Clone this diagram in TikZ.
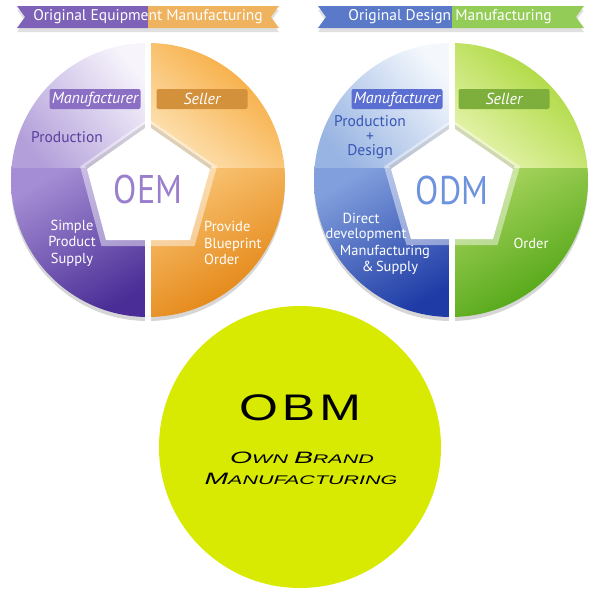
\documentclass[tikz,border=0pt]{standalone}
\usepackage{fontspec}
\setmainfont{PT Sans}
\newfontfamily\obmfont{Liberation Sans}
\definecolor{oemBanL}{HTML}{7D62B8}
\definecolor{oemBanR}{HTML}{EFB25E}
\definecolor{oemULa}{HTML}{F7F4FC}
\definecolor{oemULb}{HTML}{B3A0DA}
\definecolor{oemLLa}{HTML}{A48DD4}
\definecolor{oemLLb}{HTML}{4A2D96}
\definecolor{oemURa}{HTML}{FDE3B6}
\definecolor{oemURb}{HTML}{F6A430}
\definecolor{oemLRa}{HTML}{F9C474}
\definecolor{oemLRb}{HTML}{E2800C}
\definecolor{oemMan}{HTML}{8B6FC4}
\definecolor{oemSel}{HTML}{D4913C}
\definecolor{oemTxt}{HTML}{5B3F9D}
\definecolor{oemBig}{HTML}{9A80CC}
\definecolor{odmBanL}{HTML}{5A79C9}
\definecolor{odmBanR}{HTML}{94CC58}
\definecolor{odmULa}{HTML}{F4F8FD}
\definecolor{odmULb}{HTML}{98B4E2}
\definecolor{odmLLa}{HTML}{819FDC}
\definecolor{odmLLb}{HTML}{1E3BA6}
\definecolor{odmURa}{HTML}{E6F4AE}
\definecolor{odmURb}{HTML}{A4D42E}
\definecolor{odmLRa}{HTML}{A8D45E}
\definecolor{odmLRb}{HTML}{4AA210}
\definecolor{odmMan}{HTML}{5B6FD3}
\definecolor{odmSel}{HTML}{7EAE3C}
\definecolor{odmTxt}{HTML}{3756B6}
\definecolor{odmBig}{HTML}{6E93DE}
\definecolor{obmFill}{HTML}{D8EA02}
\newcommand\bigC[1]{{\fontsize{16.5}{18}\selectfont #1}}
\tikzset{
  bantext/.style={text=white,font=\fontsize{15.5}{18}\selectfont,inner sep=0pt},
  rolebox/.style={rounded corners=2pt,minimum width=91pt,minimum height=20pt,inner sep=0pt,text=white,font=\fontsize{16}{16}\selectfont\itshape},
  wtext/.style={text=white,font=\fontsize{14.5}{16.5}\selectfont,inner sep=0pt},
  ctext/.style={font=\fontsize{15.5}{14.5}\selectfont,inner sep=0pt},
  bigtext/.style={font=\fontsize{40}{40}\selectfont,inner sep=0pt},
  shadowc/.style={fill=black!16},
  gapstripe/.style={fill=white}
}
\begin{document}
\begin{tikzpicture}[x=1pt,y=-1pt]
\useasboundingbox (0,0) rectangle (600,600);
\fill[white] (0,0) rectangle (600,600);

% ================= OEM =================
% banner
\fill[black!12] (17,10) -- (279,10) -- (271,21) -- (279,32) -- (17,32) -- (25,21) -- cycle;
\fill[oemBanL] (17,6) -- (148,6) -- (148,28) -- (17,28) -- (25,17) -- cycle;
\fill[oemBanR] (148,6) -- (279,6) -- (271,17) -- (279,28) -- (148,28) -- cycle;
\node[bantext] (oemtitle) at (148,17) {Original Equipment Manufacturing};

% circle
\fill[shadowc] (148,184) circle (137);
\begin{scope}
  \clip (148,180) circle (137);
  \shade[top color=oemULa,bottom color=oemULb,shading angle=-50] (11,43) rectangle (148,168);
  \shade[top color=oemLLa,bottom color=oemLLb,shading angle=30] (11,168) rectangle (148,317);
  \shade[top color=oemURb,bottom color=oemURa,shading angle=-40] (148,43) rectangle (285,168);
  \shade[top color=oemLRa,bottom color=oemLRb,shading angle=30] (148,168) rectangle (285,317);
\end{scope}
\draw[white,opacity=.45,line width=12,line join=miter] (148,126) -- (87,169) -- (106,240) -- (190,240) -- (210,169) -- cycle;
\draw[black,opacity=.12,line width=7,line join=miter] (87,169) -- (148,126) -- (210,169);
\fill[white] (148,126) -- (87,169) -- (106,240) -- (190,240) -- (210,169) -- cycle;
\fill[gapstripe] (145,38) rectangle (151,325);

\node[rolebox,fill=oemMan] (oemman) at (95,99) {Manufacturer};
\node[rolebox,fill=oemSel] (oemsel) at (202,99) {Seller};
\node[ctext,text=oemTxt] (oemprod) at (67,137) {Production};
\node[bigtext,text=oemBig] (oembig) at (148,189) {\scalebox{0.85}[1]{OEM}};
\node[wtext,align=center] (oemsupply) at (72,243) {Simple\\Product\\Supply};
\node[wtext,align=left,anchor=west] (oemorder) at (204,243) {Provide\\Blueprint\\Order};

% ================= ODM =================
\fill[black!12] (318,10) -- (584,10) -- (576,21) -- (584,32) -- (318,32) -- (326,21) -- cycle;
\fill[odmBanL] (318,6) -- (452,6) -- (452,28) -- (318,28) -- (326,17) -- cycle;
\fill[odmBanR] (452,6) -- (584,6) -- (576,17) -- (584,28) -- (452,28) -- cycle;
\node[bantext] (odmtitle) at (450,17) {Original Design Manufacturing};

\fill[shadowc] (451,184) circle (137);
\begin{scope}
  \clip (451,180) circle (137);
  \shade[top color=odmULa,bottom color=odmULb,shading angle=-50] (314,43) rectangle (452,168);
  \shade[top color=odmLLa,bottom color=odmLLb,shading angle=30] (314,168) rectangle (452,317);
  \shade[top color=odmURb,bottom color=odmURa,shading angle=-40] (452,43) rectangle (588,168);
  \shade[top color=odmLRa,bottom color=odmLRb,shading angle=30] (452,168) rectangle (588,317);
\end{scope}
\draw[white,opacity=.45,line width=12,line join=miter] (452,127) -- (391,169) -- (411,239) -- (493,239) -- (513,169) -- cycle;
\draw[black,opacity=.12,line width=7,line join=miter] (391,169) -- (452,127) -- (513,169);
\fill[white] (452,127) -- (391,169) -- (411,239) -- (493,239) -- (513,169) -- cycle;
\fill[gapstripe] (449,38) rectangle (455,325);

\node[rolebox,fill=odmMan] (odmman) at (397,99) {Manufacturer};
\node[rolebox,fill=odmSel] (odmsel) at (504,99) {Seller};
\node[ctext,text=odmTxt,align=center] (odmprod) at (370,137.5) {Production\\+\\Design};
\node[bigtext,text=odmBig] (odmbig) at (452,190) {\scalebox{0.85}[1]{ODM}};
\node[wtext] (odml1) at (361,218) {Direct};
\node[wtext] (odml2) at (366,235) {development};
\node[wtext] (odml3) at (385,252) {Manufacturing};
\node[wtext] (odml4) at (390,268) {\&\,Supply};
\node[wtext] (odmorder) at (531,243) {Order};

% ================= OBM =================
\node[circle,fill=obmFill,minimum size=282pt,inner sep=0pt] (obm) at (300,447) {};
\node[font=\obmfont\fontsize{37}{37}\selectfont,inner sep=0pt] (obmtitle) at (300,408)
  {\scalebox{1.35}[1]{O\kern3pt B\kern3pt M}};
\node[font=\obmfont\itshape\fontsize{12.5}{14}\selectfont,inner sep=0pt] (obmsub1) at (302,458)
  {\scalebox{1.72}[1]{\bigC{O}WN \bigC{B}RAND}};
\node[font=\obmfont\itshape\fontsize{12.5}{14}\selectfont,inner sep=0pt] (obmsub2) at (301,479)
  {\scalebox{1.72}[1]{\bigC{M}ANUFACTURING}};
\end{tikzpicture}
\end{document}
